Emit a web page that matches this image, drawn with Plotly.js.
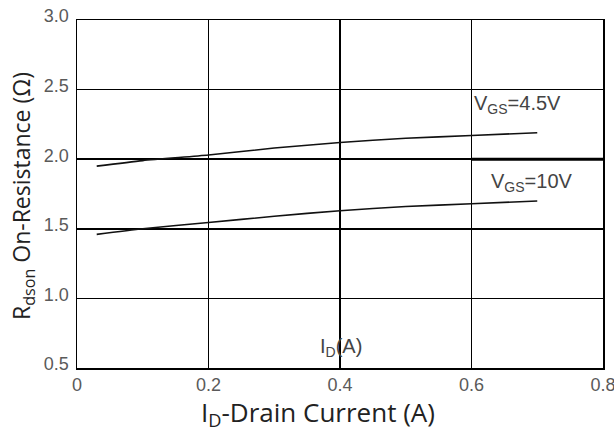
<!DOCTYPE html>
<html>
<head>
<meta charset="utf-8">
<script src="https://cdn.plot.ly/plotly-3.0.1.min.js"></script>
<style>
  html, body { margin: 0; padding: 0; background: #fff; }
  #chart { width: 614px; height: 437px; }
</style>
</head>
<body>
<div id="chart"></div>
<script>
// Drain current (A) and on-resistance (Ω) for each gate drive
const idVgs45 = [0.03, 0.1, 0.2, 0.3, 0.4, 0.5, 0.6, 0.7];
const rdsVgs45 = [1.95, 1.99, 2.03, 2.08, 2.12, 2.15, 2.17, 2.19];
const idVgs10 = [0.03, 0.1, 0.2, 0.3, 0.4, 0.5, 0.6, 0.7];
const rdsVgs10 = [1.46, 1.50, 1.545, 1.59, 1.63, 1.66, 1.68, 1.70];

const xTickVals = [0, 0.2, 0.4, 0.6, 0.8];
const xTickText = ['0', '0.2', '0.4', '0.6', '0.8'];
const yTickVals = [0.5, 1.0, 1.5, 2.0, 2.5, 3.0];
const yTickText = ['0.5', '1.0', '1.5', '2.0', '2.5', '3.0'];

const curveLine = { color: '#111', width: 1.6, shape: 'spline', smoothing: 0.6 };

const traces = [
  { x: idVgs45, y: rdsVgs45, mode: 'lines', line: curveLine, name: 'VGS=4.5V', hoverinfo: 'skip' },
  { x: idVgs10, y: rdsVgs10, mode: 'lines', line: curveLine, name: 'VGS=10V', hoverinfo: 'skip' }
];

const tickFont = { family: 'Liberation Sans, Arial, sans-serif', size: 18, color: '#5a5a5a' };
const labelFont = { family: 'Liberation Sans, Arial, sans-serif', size: 20, color: '#444' };
const xTitleFont = { family: 'Open Sans, Noto Sans, sans-serif', size: 26, color: '#222' };
const yTitleFont = { family: 'Open Sans, Noto Sans, sans-serif', size: 23, color: '#222' };

const layout = {
  width: 614, height: 437,
  margin: { l: 77, r: 11, t: 20, b: 69 },
  paper_bgcolor: '#fff', plot_bgcolor: '#fff',
  showlegend: false,
  xaxis: {
    range: [0, 0.8], tickvals: xTickVals, ticktext: xTickText,
    showgrid: true, gridcolor: '#000', gridwidth: 1.5,
    showline: true, linecolor: '#000', linewidth: 1.5, mirror: true,
    zeroline: false, ticks: '', tickfont: tickFont, ticklabelstandoff: 0,
    ticklabeloverflow: 'allow'
  },
  yaxis: {
    range: [0.5, 3.0], tickvals: yTickVals, ticktext: yTickText,
    showgrid: true, gridcolor: '#000', gridwidth: 1.5,
    showline: true, linecolor: '#000', linewidth: 1.5, mirror: true,
    zeroline: false, ticks: '', tickfont: tickFont, ticklabelstandoff: 3,
    ticklabelshift: -4, ticklabeloverflow: 'allow'
  },
  shapes: [
    { type: 'line', xref: 'x', yref: 'y', x0: 0.6, x1: 0.8, y0: 2.0, y1: 2.0,
      line: { color: '#000', width: 3 } }
  ],
  annotations: [
    { x: 0.601, y: 2.39, xref: 'x', yref: 'y', xanchor: 'left', yanchor: 'middle',
      text: 'V<sub>GS</sub>=4.5V', showarrow: false, font: labelFont },
    { x: 0.626, y: 1.83, xref: 'x', yref: 'y', xanchor: 'left', yanchor: 'middle',
      text: 'V<sub>GS</sub>=10V', showarrow: false, font: labelFont },
    { x: 0.366, y: 0.65, xref: 'x', yref: 'y', xanchor: 'left', yanchor: 'middle',
      text: 'I<sub>D</sub>(A)', showarrow: false, font: labelFont },
    { x: 318, y: 413, xref: 'paper', yref: 'paper', xanchor: 'center', yanchor: 'middle',
      showarrow: false, text: 'I<sub>D</sub>-Drain Current (A)', font: xTitleFont },
    { x: 22, y: 196, xref: 'paper', yref: 'paper', xanchor: 'center', yanchor: 'middle',
      showarrow: false, textangle: -90,
      text: 'R<sub>dson</sub> On-Resistance (Ω)', font: yTitleFont }
  ]
};

// title annotations are placed in pixels; convert to paper fractions
const pw = 614 - 77 - 11, ph = 437 - 20 - 69;
layout.annotations.forEach(a => {
  if (a.xref === 'paper') {
    a.x = (a.x - 77) / pw;
    a.y = 1 - (a.y - 20) / ph;
  }
});

Plotly.newPlot('chart', traces, layout, { displayModeBar: false, staticPlot: true });
</script>
</body>
</html>
